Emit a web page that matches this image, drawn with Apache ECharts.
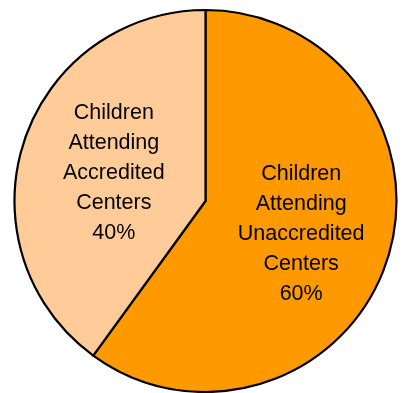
<!DOCTYPE html>
<html>
<head>
<meta charset="utf-8">
<script src="https://cdn.jsdelivr.net/npm/echarts@6/dist/echarts.min.js"></script>
<style>
  html, body { margin: 0; padding: 0; background: #ffffff; }
  #chart { width: 402px; height: 393px; }
</style>
</head>
<body>
<div id="chart"></div>
<script>
// Share of children by center accreditation status
const categories = ['Children\nAttending\nUnaccredited\nCenters', 'Children\nAttending\nAccredited\nCenters'];
const shares = [60, 40];
const sliceColors = ['#FF9900', '#FFCC99'];

const chart = echarts.init(document.getElementById('chart'), null, { renderer: 'canvas' });

chart.setOption({
  animation: false,
  backgroundColor: '#ffffff',
  series: [{
    type: 'pie',
    center: [205.5, 201],
    radius: [0, 191],
    startAngle: 90,
    clockwise: true,
    data: categories.map((name, i) => ({
      name: name,
      value: shares[i],
      itemStyle: { color: sliceColors[i] }
    })),
    itemStyle: { borderColor: '#000000', borderWidth: 2.2 },
    label: {
      show: true,
      position: 'inside',
      formatter: p => p.name + '\n' + p.value + '%',
      color: '#000000',
      fontFamily: 'Liberation Sans, Arial, sans-serif',
      fontSize: 21.5,
      lineHeight: 30,
      align: 'center',
      offset: [2, 3]
    },
    labelLine: { show: false },
    emphasis: { disabled: true }
  }]
});
</script>
</body>
</html>
